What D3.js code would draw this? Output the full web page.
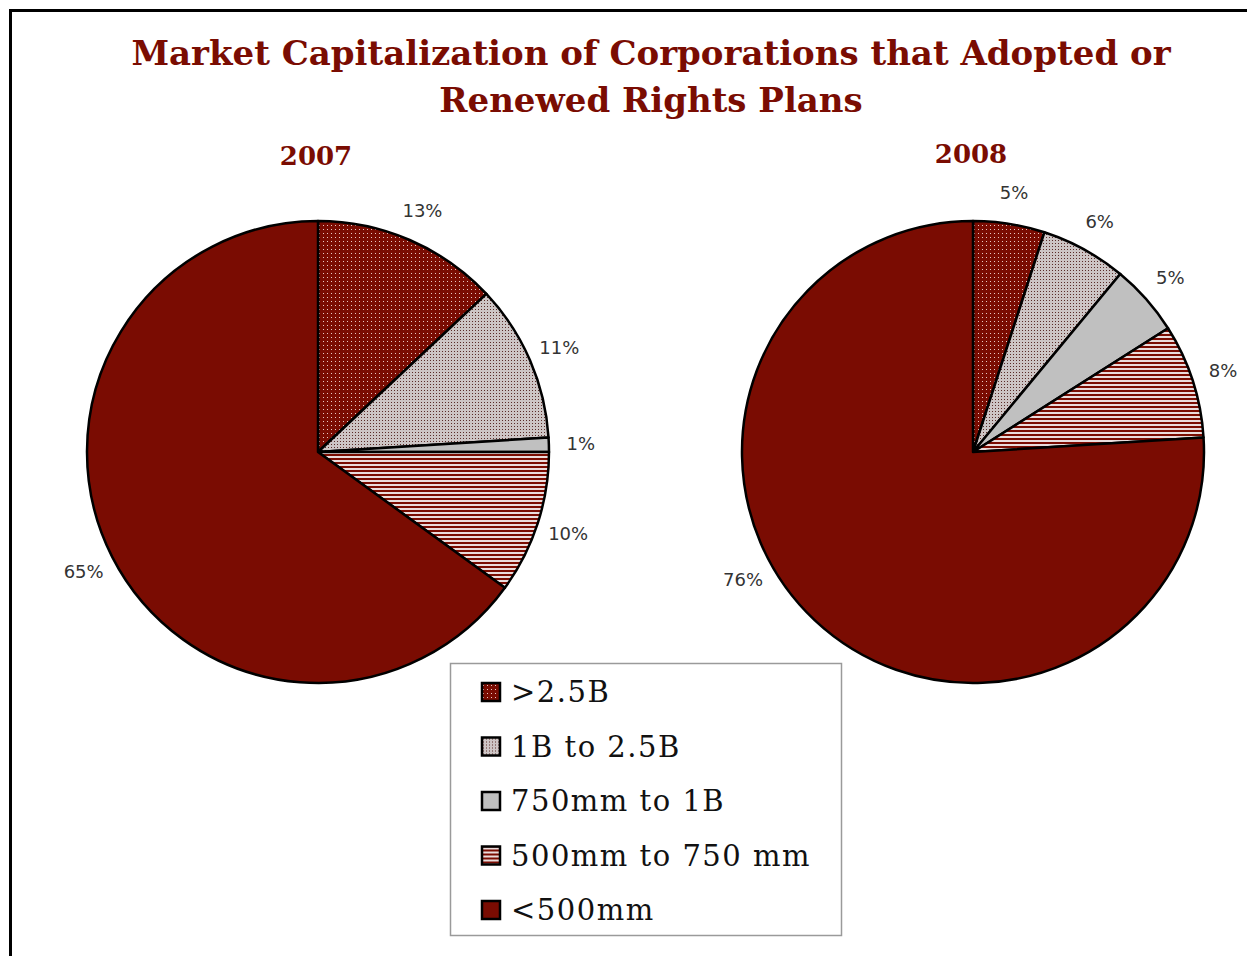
<!DOCTYPE html>
<html>
<head>
<meta charset="utf-8">
<script src="https://cdn.jsdelivr.net/npm/d3@7"></script>
<style>
  body { margin: 0; background: #fff; }
  #chart { width: 1247px; height: 956px; }
</style>
</head>
<body>
<div id="chart"></div>
<script>
const titleLines = ["Market Capitalization of Corporations that Adopted or", "Renewed Rights Plans"];
const categories = [">2.5B", "1B to 2.5B", "750mm to 1B", "500mm to 750 mm", "<500mm"];
const years = ["2007", "2008"];
const values2007 = [13, 11, 1, 10, 65];
const values2008 = [5, 6, 5, 8, 76];

const width = 1247;
const height = 956;
const red = "#7a0c02";

const svg = d3
  .select("#chart")
  .append("svg")
  .attr("width", width)
  .attr("height", height)
  .attr("viewBox", [0, 0, width, height]);

// --- fill patterns ---
const defs = svg.append("defs");

const pDots = defs.append("pattern").attr("id", "p0").attr("width", 4).attr("height", 4).attr("patternUnits", "userSpaceOnUse");
pDots.append("rect").attr("width", 4).attr("height", 4).attr("fill", red);
pDots.append("rect").attr("x", 1).attr("y", 1).attr("width", 1).attr("height", 1).attr("fill", "#e9c9c4");

const pStipple = defs.append("pattern").attr("id", "p1").attr("width", 3).attr("height", 3).attr("patternUnits", "userSpaceOnUse");
pStipple.append("rect").attr("width", 3).attr("height", 3).attr("fill", "#cdc5c5");
pStipple.append("rect").attr("x", 1).attr("y", 1).attr("width", 1).attr("height", 1).attr("fill", "#5a2c28");

const pStripes = defs.append("pattern").attr("id", "p3").attr("width", 4).attr("height", 4).attr("patternUnits", "userSpaceOnUse");
pStripes.append("rect").attr("width", 4).attr("height", 4).attr("fill", "#eadcdc");
pStripes.append("rect").attr("y", 2).attr("width", 4).attr("height", 2).attr("fill", red);

const fills = ["url(#p0)", "url(#p1)", "#c0c0c0", "url(#p3)", red];
const color = d3.scaleOrdinal().domain(categories).range(fills);

// frame (only left and top edges fall inside the picture)
svg
  .append("path")
  .attr("d", `M10.5,${height + 10}V10.5H${width + 10}`)
  .attr("fill", "none")
  .attr("stroke", "#000")
  .attr("stroke-width", 3);

// title
svg
  .append("text")
  .attr("x", 651)
  .attr("y", 65)
  .attr("text-anchor", "middle")
  .style("font-family", "'DejaVu Serif', serif")
  .style("font-weight", "bold")
  .style("font-size", "34px")
  .attr("fill", red)
  .selectAll("tspan")
  .data(titleLines)
  .enter()
  .append("tspan")
  .attr("x", 651)
  .attr("dy", (d, i) => (i === 0 ? 0 : 47))
  .text((d) => d);

// --- pies ---
const radius = 231;
const pie = d3.pie().sort(null).value((d) => d.value);
const arc = d3.arc().innerRadius(0).outerRadius(radius);
const labelR = 263;

const x = d3.scalePoint().domain(years).range([318, 973]);

const series = [values2007, values2008];

years.forEach((year, yi) => {
  const data = categories.map((c, i) => ({ category: c, value: series[yi][i] }));
  const g = svg.append("g").attr("transform", `translate(${x(year)},452)`);

  g.append("text")
    .attr("x", -2)
    .attr("y", yi === 0 ? -287 : -289)
    .attr("text-anchor", "middle")
    .style("font-family", "'DejaVu Serif', serif")
    .style("font-weight", "bold")
    .style("font-size", "26px")
    .attr("fill", red)
    .text(year);

  g.selectAll("path")
    .data(pie(data))
    .enter()
    .append("path")
    .attr("d", arc)
    .attr("fill", (d) => color(d.data.category))
    .attr("stroke", "#000")
    .attr("stroke-width", 2.5)
    .attr("stroke-linejoin", "round");

  g.selectAll("text.lbl")
    .data(pie(data))
    .enter()
    .append("text")
    .attr("class", "lbl")
    .attr("transform", (d) => {
      let a = (d.startAngle + d.endAngle) / 2;
      // the big 2008 label sits lower on the left, as in the original
      if (yi === 1 && d.data.value > 50) a += 0.31;
      return `translate(${labelR * Math.sin(a)},${-labelR * Math.cos(a)})`;
    })
    .attr("text-anchor", "middle")
    .attr("dy", "0.35em")
    .style("font-family", "'DejaVu Sans', sans-serif")
    .style("font-size", "18px")
    .attr("fill", "#333")
    .text((d) => d.data.value + "%");
});

// --- legend ---
const legend = svg.append("g").attr("transform", "translate(450,663)");
legend
  .append("rect")
  .attr("x", 0.5)
  .attr("y", 0.5)
  .attr("width", 391)
  .attr("height", 272)
  .attr("fill", "#fff")
  .attr("stroke", "#9a9a9a")
  .attr("stroke-width", 1.5);

const ly = d3.scalePoint().domain(categories).range([29, 247]);

const item = legend
  .selectAll("g.item")
  .data(categories)
  .enter()
  .append("g")
  .attr("class", "item")
  .attr("transform", (d) => `translate(32,${ly(d)})`);

item
  .append("rect")
  .attr("x", 0)
  .attr("y", -9)
  .attr("width", 18)
  .attr("height", 18)
  .attr("fill", (d) => color(d))
  .attr("stroke", "#000")
  .attr("stroke-width", 2.5);

item
  .append("text")
  .attr("x", 29)
  .attr("dy", "0.35em")
  .style("font-family", "'DejaVu Serif', serif")
  .style("font-size", "29px")
  .style("letter-spacing", "1.5px")
  .attr("fill", "#111")
  .text((d) => d);
</script>
</body>
</html>
